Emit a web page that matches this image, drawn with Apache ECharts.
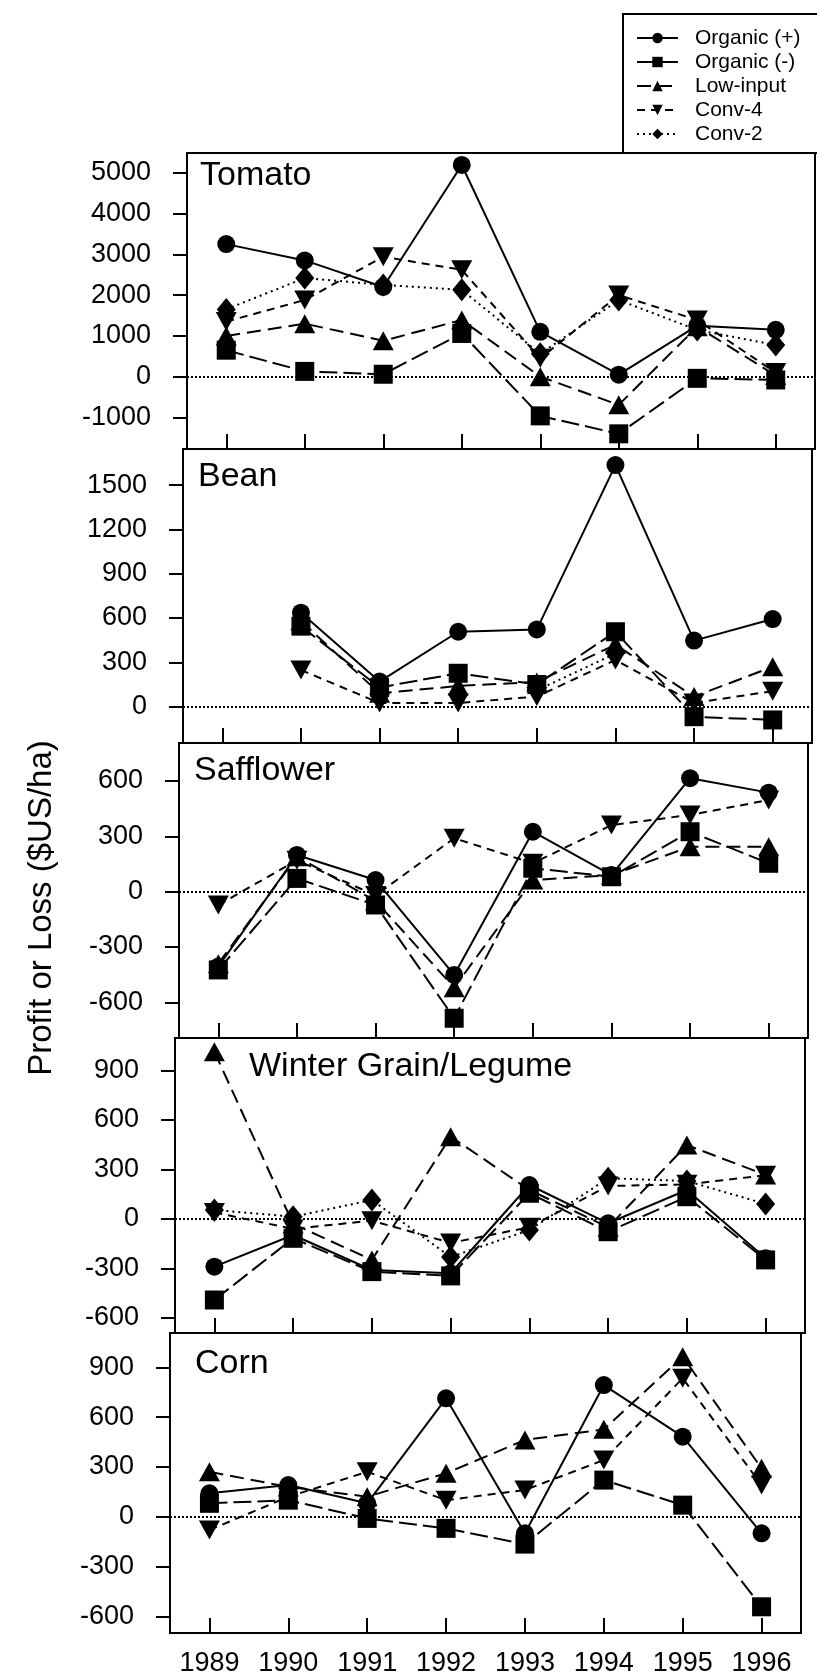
<!DOCTYPE html>
<html>
<head>
<meta charset="utf-8">
<title>Profit or Loss by crop</title>
<script src="https://cdn.jsdelivr.net/npm/echarts@6/dist/echarts.min.js"></script>
<style>
  html, body { margin: 0; padding: 0; background: #fff; }
  #chart { width: 817px; height: 1679px; }
</style>
</head>
<body>
<div id="chart"></div>
<script>
// years on the x axis
const years = ['1989', '1990', '1991', '1992', '1993', '1994', '1995', '1996'];
const treatments = ['Organic (+)', 'Organic (-)', 'Low-input', 'Conv-4', 'Conv-2'];

// values per crop, one row per treatment (same order as treatments)
const tomatoValues = [
    [3250, 2850, 2200, 5190, 1100, 50, 1250, 1150],
    [650, 130, 60, 1060, -960, -1400, -40, -80],
    [1000, 1300, 880, 1390, 0, -690, 1225, 30],
    [1350, 1880, 2940, 2620, 450, 2000, 1390, 100],
    [1650, 2420, 2250, 2130, 560, 1880, 1145, 775]
];
const beanValues = [
    [null, 636, 170, 507, 523, 1635, 447, 593],
    [null, 545, 130, 226, 150, 507, -68, -90],
    [null, 580, 90, 140, 167, 420, 68, 270],
    [null, 248, 25, 25, 68, 316, 25, 105],
    [null, null, 80, null, 110, 360, null, null]
];
const safflowerValues = [
    [-406, 199, 63, -451, 325, 90, 615, 537],
    [-424, 72, -72, -686, 127, 81, 325, 154],
    [-390, 190, -50, -520, 63, 90, 244, 244],
    [-72, 170, -20, 290, 154, 361, 416, 497],
    [null, null, null, null, null, null, null, null]
];
const winterValues = [
    [-289, -97, -309, -329, 206, -26, 176, -238],
    [-491, -117, -319, -345, 156, -77, 135, -248],
    [1014, -30, -248, 499, 176, -50, 448, 267],
    [40, -60, -10, -145, -50, 200, 210, 265],
    [55, 14, 115, -230, -67, 247, 230, 91]
];
const cornValues = [
    [141, 191, 81, 714, -100, 794, 483, -100],
    [81, 100, -10, -70, -165, 221, 70, -543],
    [271, 180, 121, 262, 463, 527, 965, 292],
    [-80, 120, 271, 100, 161, 342, 835, 191],
    [null, null, null, null, null, null, null, null]
];

// tick labels of each panel
const tomatoTicks = [-1000, 0, 1000, 2000, 3000, 4000, 5000];
const beanTicks = [0, 300, 600, 900, 1200, 1500];
const safflowerTicks = [-600, -300, 0, 300, 600];
const winterTicks = [-600, -300, 0, 300, 600, 900];
const cornTicks = [-600, -300, 0, 300, 600, 900];

const font = '"Liberation Sans", Arial, sans-serif';

// panel layout (the scan is slightly sheared, so each panel shifts a little)
const panels = [
    { title: 'Tomato', values: tomatoValues, ticks: tomatoTicks, min: -1772, max: 5483,
      top: 153, height: 296, left: 187, width: 628, tx: 200, ty: 176 },
    { title: 'Bean', values: beanValues, ticks: beanTicks, min: -246, max: 1744,
      top: 449, height: 294, left: 183, width: 629, tx: 198, ty: 477 },
    { title: 'Safflower', values: safflowerValues, ticks: safflowerTicks, min: -793, max: 806,
      top: 743, height: 295, left: 179, width: 629, tx: 194, ty: 771 },
    { title: 'Winter Grain/Legume', values: winterValues, ticks: winterTicks, min: -691, max: 1097,
      top: 1038, height: 295, left: 175, width: 630, tx: 249, ty: 1067 },
    { title: 'Corn', values: cornValues, ticks: cornTicks, min: -701, max: 1108,
      top: 1333, height: 300, left: 170, width: 631, tx: 195, ty: 1364 }
];

// marker + line style per treatment
const styles = [
    { symbol: 'circle', size: 18, rotate: 0, dash: 'solid' },
    { symbol: 'rect', size: 19, rotate: 0, dash: [18, 6] },
    { symbol: 'triangle', size: [21, 19], rotate: 0, dash: [14, 7] },
    { symbol: 'triangle', size: [21, 19], rotate: 180, dash: [8, 6] },
    { symbol: 'diamond', size: [19, 23], rotate: 0, dash: [2, 4] }
];

const grids = [], xAxes = [], yAxes = [], series = [], texts = [];

panels.forEach(function (p, i) {
    grids.push({
        left: p.left, top: p.top, width: p.width, height: p.height,
        show: true, borderColor: '#000', borderWidth: 2
    });
    xAxes.push({
        type: 'category', gridIndex: i, data: years, boundaryGap: true,
        position: 'bottom',
        axisLine: { show: true, onZero: false, lineStyle: { color: '#000', width: 2 } },
        axisTick: { show: true, inside: true, alignWithLabel: true, length: 15,
                    lineStyle: { color: '#000', width: 2 } },
        axisLabel: { show: i === panels.length - 1, interval: 0, margin: 17,
                     fontSize: 27, color: '#000', fontFamily: font }
    });
    yAxes.push({
        type: 'value', gridIndex: i, min: p.min, max: p.max,
        position: 'left',
        axisLine: { show: true, onZero: false, lineStyle: { color: '#000', width: 2 } },
        splitLine: { show: false },
        axisTick: { show: true, length: 14, customValues: p.ticks,
                    lineStyle: { color: '#000', width: 2 } },
        axisLabel: { customValues: p.ticks, margin: 36, fontSize: 27,
                     color: '#000', fontFamily: font,
                     formatter: function (v) { return String(v); } }
    });
    texts.push({
        type: 'text', x: p.tx, y: p.ty,
        style: { text: p.title, font: '34px ' + font, fill: '#000',
                 textVerticalAlign: 'middle' }
    });

    treatments.forEach(function (name, k) {
        const s = styles[k];
        const item = {
            name: name, type: 'line', xAxisIndex: i, yAxisIndex: i,
            data: p.values[k],
            symbol: s.symbol, symbolSize: s.size, symbolRotate: s.rotate,
            showSymbol: true, clip: false,
            lineStyle: { color: '#000', width: 2, type: s.dash },
            itemStyle: { color: '#000' },
            z: 3
        };
        // dotted zero line
        if (k === 0) {
            item.markLine = {
                silent: true, symbol: 'none', label: { show: false },
                lineStyle: { color: '#000', width: 2, type: [2, 2] },
                data: [{ yAxis: 0 }]
            };
        }
        series.push(item);
    });
});

// y axis title
texts.push({
    type: 'text', x: 42, y: 908, rotation: Math.PI / 2,
    style: { text: 'Profit or Loss ($US/ha)', font: '33px ' + font, fill: '#000',
             textAlign: 'center', textVerticalAlign: 'middle' }
});

const chart = echarts.init(document.getElementById('chart'), null, { renderer: 'canvas' });
chart.setOption({
    animation: false,
    backgroundColor: '#fff',
    legend: {
        data: treatments,
        orient: 'vertical', left: 623, top: 14,
        align: 'left',
        padding: [13, 60, 8, 13],
        itemWidth: 41, itemHeight: 13, itemGap: 2,
        borderColor: '#000', borderWidth: 2,
        backgroundColor: '#fff',
        textStyle: { fontSize: 21, lineHeight: 22, color: '#000', fontFamily: font,
                     padding: [0, 0, 0, 12] }
    },
    grid: grids,
    xAxis: xAxes,
    yAxis: yAxes,
    graphic: texts,
    series: series
});
</script>
</body>
</html>
